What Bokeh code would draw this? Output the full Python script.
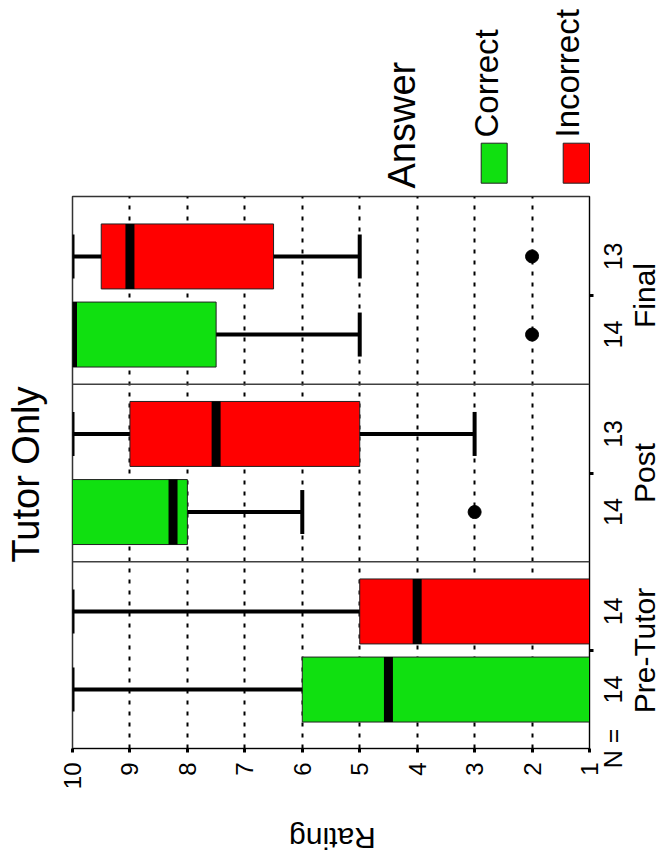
import math
from bokeh.plotting import figure
from bokeh.models import Range1d, FixedTicker, Span
from bokeh.layouts import column, row
from bokeh.core.properties import value
from bokeh.embed import file_html
from bokeh.resources import INLINE

# ---------------- data ----------------
chart_title = "Tutor Only"
phases = ["Pre-Tutor", "Post", "Final"]
answers = ["Correct", "Incorrect"]
answer_colors = ["#10E010", "#FF0000"]
legend_title = "Answer"
rating_ticks = [1, 2, 3, 4, 5, 6, 7, 8, 9, 10]
rating_label = "Rating"
n_prefix = "N ="

# one entry per box: Pre C, Pre I, Post C, Post I, Final C, Final I
box_phase = [0, 0, 1, 1, 2, 2]
box_answer = [0, 1, 0, 1, 0, 1]
n_counts = ["14", "14", "14", "13", "14", "13"]
whisker_low = [1, 1, 6, 3, 5, 5]
q1 = [1, 1, 8, 5, 7.5, 6.5]
medians = [4.5, 4, 8.25, 7.5, 10, 9]
q3 = [6, 5, 10, 9, 10, 9.5]
whisker_high = [10, 10, 10, 10, 10, 10]
outlier_box = [2, 4, 5]
outlier_values = [3, 2, 2]

# ---------------- layout constants ----------------
FONT = "Liberation Sans"
GROUP_POS = [1, 2, 3]
OFFSET = [-0.22, 0.22]
BOX_H = 0.366
CAP_H = 0.124
PX_PER_UNIT = 177.5

W, H = 671, 864
TOP_H = 190          # legend strip
MID_H = 615          # chart row
BOT_H = H - TOP_H - MID_H
L_W = 56             # title strip
M_W = 543            # main plot
C_W = L_W + M_W      # left column width
R_W = W - C_W        # N / phase label strip (full height)
M_LEFT, M_RIGHT = 16, 10
M_TOP, M_BOT = 6, 57  # frame spans page rows 196..748
FRAME_TOP, FRAME_BOT = TOP_H + M_TOP, TOP_H + MID_H - M_BOT


def dy(py):
    # page pixel row -> chart y value (Pre-Tutor group centred at page row 650)
    return 1 + (650 - py) / PX_PER_UNIT


Y_LO, Y_HI = dy(FRAME_BOT), dy(FRAME_TOP)

box_y = [GROUP_POS[g] + OFFSET[a] for g, a in zip(box_phase, box_answer)]
box_colors = [answer_colors[a] for a in box_answer]


def strip(width, height, xr, yr):
    f = figure(width=width, height=height, x_range=xr, y_range=yr,
               output_backend="svg", toolbar_location=None,
               x_axis_location=None, y_axis_location=None, min_border=0,
               min_border_left=0, min_border_right=0, min_border_top=0, min_border_bottom=0)
    f.outline_line_color = None
    f.grid.visible = False
    f.background_fill_color = "white"
    f.border_fill_color = "white"
    return f


def vtext(f, xs, ys, texts, size, align="center", angle=math.pi / 2):
    f.text(x=xs, y=ys, text=texts, angle=angle, text_font=value(FONT),
           text_font_size=value(size), text_align=value(align),
           text_baseline=value("middle"), text_color="black")


# ---------------- main plot ----------------
p = figure(width=M_W, height=MID_H, x_range=Range1d(10, 1), y_range=Range1d(Y_LO, Y_HI),
           output_backend="svg", toolbar_location=None, y_axis_location="right",
           min_border_left=M_LEFT, min_border_right=M_RIGHT,
           min_border_top=M_TOP, min_border_bottom=M_BOT)
p.background_fill_color = "white"
p.border_fill_color = "white"
p.outline_line_color = "#333333"
p.outline_line_width = 1.5

p.xgrid.ticker = FixedTicker(ticks=rating_ticks)
p.xgrid.grid_line_color = "black"
p.xgrid.grid_line_dash = "4 7"
p.xgrid.grid_line_width = 2
p.ygrid.visible = False

for s in [1.5, 2.5]:
    p.add_layout(Span(location=s, dimension="width", line_color="#404040", line_width=1.5))

xa = p.xaxis[0]
xa.ticker = FixedTicker(ticks=rating_ticks, minor_ticks=[])
xa.major_label_orientation = math.pi / 2
xa.major_tick_in = 0
xa.major_tick_out = 4
xa.major_tick_line_width = 3
xa.major_label_standoff = 10
xa.major_label_text_font = FONT
xa.major_label_text_font_size = "24px"
xa.major_label_text_color = "black"
xa.axis_line_color = "black"

# right edge: tick marks at the phase positions (labels drawn in the right strip)
ya = p.yaxis[0]
ya.ticker = FixedTicker(ticks=GROUP_POS, minor_ticks=[])
ya.major_label_overrides = {g: "" for g in GROUP_POS}
ya.major_tick_in = 0
ya.major_tick_out = 4
ya.major_tick_line_width = 3
ya.major_label_text_font_size = "1px"
ya.major_label_text_color = None
ya.major_label_standoff = 0
ya.axis_line_color = "black"

p.hbar(y=box_y, left=q1, right=q3, height=BOX_H, fill_color=box_colors,
       line_color="#222222", line_width=1)

wy, wx0, wx1, cy, cx = [], [], [], [], []
for i, y in enumerate(box_y):
    if whisker_low[i] != q1[i]:
        wy.append(y); wx0.append(q1[i]); wx1.append(whisker_low[i])
        cy.append(y); cx.append(whisker_low[i])
    if whisker_high[i] != q3[i]:
        wy.append(y); wx0.append(q3[i]); wx1.append(whisker_high[i])
        cy.append(y); cx.append(whisker_high[i])
p.segment(x0=wx0, y0=wy, x1=wx1, y1=wy, line_color="black", line_width=4)
p.segment(x0=cx, y0=[y - CAP_H for y in cy], x1=cx, y1=[y + CAP_H for y in cy],
          line_color="black", line_width=4)

p.segment(x0=medians, y0=[y - BOX_H / 2 for y in box_y], x1=medians,
          y1=[y + BOX_H / 2 for y in box_y], line_color="black", line_width=9)

p.scatter(x=outlier_values, y=[box_y[i] for i in outlier_box], size=13,
          fill_color="black", line_color="black")

# ---------------- legend strip (page pixel coordinates) ----------------
top = strip(C_W, TOP_H, Range1d(0, C_W), Range1d(TOP_H, 0))
vtext(top, [401.5], [188], [legend_title], "38px", align="left")
top.quad(left=[480.7, 562.7], right=[506.7, 589.0], top=[142.7, 142.7], bottom=[182.7, 182.7],
         fill_color=answer_colors, line_color="#222222", line_width=1)
vtext(top, [486, 566.5], [137, 137], answers, "33px", align="left")

# ---------------- title strip (its frame is aligned with the chart frame) ----------------
left = strip(L_W, MID_H, Range1d(0, L_W), Range1d(FRAME_BOT, FRAME_TOP))
vtext(left, [25], [474], [chart_title], "38px")

# ---------------- axis-title strip ----------------
bottom = strip(C_W, BOT_H, Range1d(0, C_W), Range1d(H, TOP_H + MID_H))
vtext(bottom, [332], [838], [rating_label], "30px", angle=math.pi)

# ---------------- N / phase label strip (full height, chart y scale) ----------------
right = strip(R_W, H, Range1d(C_W, W), Range1d(dy(H), dy(0)))
vtext(right, [612] * len(box_y), box_y, n_counts, "25px")
vtext(right, [612], [Y_LO], [n_prefix], "25px")
vtext(right, [644] * 3, GROUP_POS, phases, "30px")

layout = row(column(top, row(left, p), bottom), right)
open("out.html", "w").write(file_html(layout, INLINE))
